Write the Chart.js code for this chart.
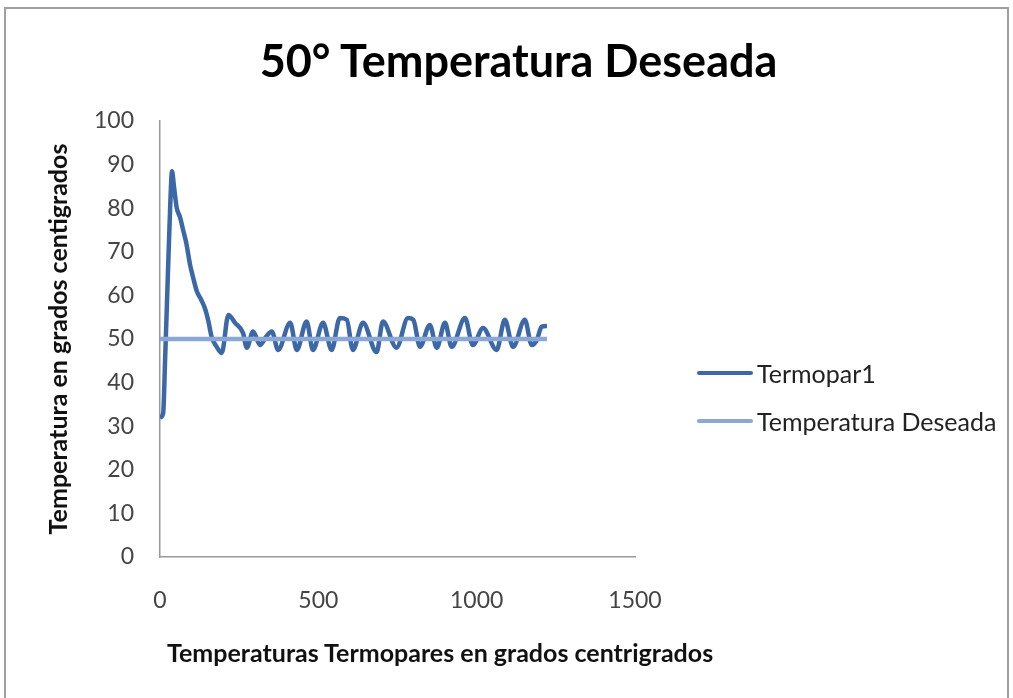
<!DOCTYPE html>
<html>
<head>
<meta charset="utf-8">
<script src="https://cdn.jsdelivr.net/npm/chart.js@4.4.1/dist/chart.umd.min.js"></script>
<style>
    html, body { margin: 0; padding: 0; background: #fff; }
    #marco {
        position: absolute; left: 4px; top: 7px; width: 1005px; height: 700px;
        border: 2px solid #a0a0a0; border-bottom: none; box-sizing: border-box;
    }
    #wrap { position: absolute; left: 0; top: 0; width: 1013px; height: 698px; }
    #titulo {
        position: absolute; left: 12px; width: 1013px; top: 33px; text-align: center;
        font-family: Lato, sans-serif; font-weight: bold; font-size: 45px; color: #000;
    }
    #tituloX {
        position: absolute; left: 167px; top: 637px; white-space: nowrap;
        font-family: Lato, sans-serif; font-weight: bold; font-size: 25px; color: #111;
    }
    #leyenda { position: absolute; left: 697px; top: 349px; font-family: Lato, sans-serif; font-size: 25px; color: #222; }
    .item { display: flex; align-items: center; height: 48px; }
    .item span.linea { display: inline-block; width: 56px; height: 4px; border-radius: 2px; margin-right: 4px; }
</style>
</head>
<body>
<div id="marco"></div>
<div id="wrap">
    <canvas id="grafico" width="1013" height="698"></canvas>
</div>
<div id="titulo">50° Temperatura Deseada</div>
<div id="tituloX">Temperaturas Termopares en grados centrigrados</div>
<div id="leyenda"></div>
<script>
// Lecturas del termopar (muestra, grados)
const termoparX = [0, 10, 16, 25, 32, 38, 44, 53, 63, 73, 83, 95, 105, 116, 130, 142, 153, 163, 179, 195,
    216, 237, 262, 274, 294, 316, 335, 353, 373, 411, 432, 463, 483, 515, 542, 568, 590, 609, 641, 684,
    704, 747, 783, 800, 821, 852, 874, 900, 921, 963, 988, 1020, 1063, 1089, 1115, 1152, 1174, 1190, 1205, 1222];
const termoparY = [32, 33, 45, 65, 80, 88.5, 85, 80, 78, 75, 72, 67, 64, 61, 59, 57, 54, 50.5, 48.2, 46.8,
    55.5, 53.7, 51.4, 48, 51.7, 48.6, 50.5, 51.7, 47.5, 53.7, 47.5, 54, 47.5, 53.7, 47.5, 54.8, 54.4, 47.5, 53.7, 47,
    54, 48, 54.8, 54.4, 48.2, 53.2, 48, 53.7, 48.2, 54.8, 48.6, 52.5, 47.5, 54.4, 48.2, 54.4, 48.6, 49.8, 52.8, 53];

// Referencia de temperatura deseada
const deseadaX = [0, 1222];
const deseadaY = [50, 50];

const ticksX = [0, 500, 1000, 1500];
const ticksY = [0, 10, 20, 30, 40, 50, 60, 70, 80, 90, 100];

const series = [
    { label: 'Termopar1', xs: termoparX, ys: termoparY, color: '#3c68a8', width: 4.5, order: 1 },
    { label: 'Temperatura Deseada', xs: deseadaX, ys: deseadaY, color: '#8ba7d6', width: 4.5, order: 0 }
];

const fuente = { family: 'Lato, sans-serif', size: 23 };

const ctx = document.getElementById('grafico').getContext('2d');
new Chart(ctx, {
    type: 'line',
    data: {
        datasets: series.map(s => ({
            label: s.label,
            data: s.xs.map((x, i) => ({ x: x, y: s.ys[i] })),
            borderColor: s.color,
            backgroundColor: s.color,
            borderWidth: s.width,
            pointRadius: 0,
            cubicInterpolationMode: 'monotone',
            order: s.order
        }))
    },
    options: {
        responsive: false,
        animation: false,
        layout: { padding: { top: 121, right: 378, left: 34, bottom: 28 } },
        plugins: { legend: { display: false }, tooltip: { enabled: false } },
        scales: {
            x: {
                type: 'linear', min: 0, max: 1500,
                afterBuildTicks: s => { s.ticks = ticksX.map(v => ({ value: v })); },
                afterFit: s => { s.height = 113; },
                grid: { display: false, drawTicks: false },
                border: { color: '#999', width: 1.5 },
                ticks: { color: '#444', font: fuente, padding: 30, callback: v => String(v) }
            },
            y: {
                type: 'linear', min: 0, max: 100,
                afterBuildTicks: s => { s.ticks = ticksY.map(v => ({ value: v })); },
                afterFit: s => { s.width = 126; },
                grid: { display: false, drawTicks: false },
                border: { color: '#999', width: 1.5 },
                ticks: { color: '#444', font: fuente, padding: 26 },
                title: {
                    display: true, text: 'Temperatura en grados centigrados',
                    color: '#111', font: { family: 'Lato, sans-serif', size: 25, weight: 'bold' },
                    padding: { top: 10, bottom: 4 }
                }
            }
        }
    }
});

// Leyenda a la derecha
const leyenda = document.getElementById('leyenda');
series.forEach(s => {
    const item = document.createElement('div');
    item.className = 'item';
    item.innerHTML = `<span class="linea" style="background:${s.color}"></span>${s.label}`;
    leyenda.appendChild(item);
});
</script>
</body>
</html>
